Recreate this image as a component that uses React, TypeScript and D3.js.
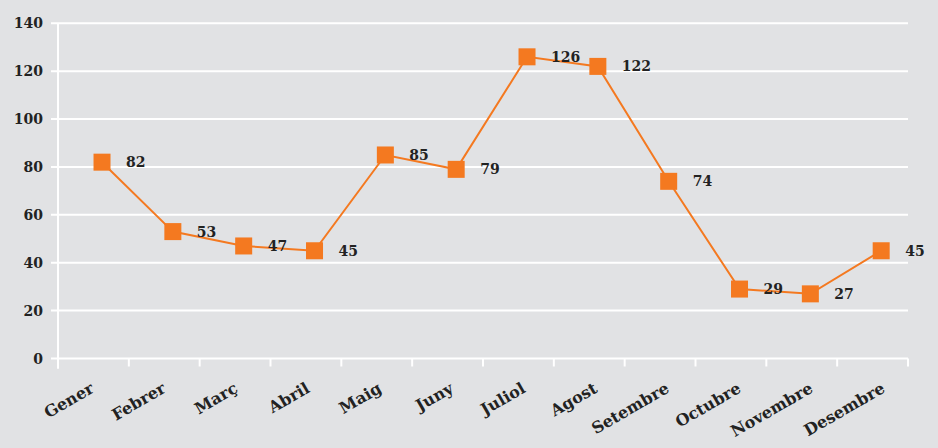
import React from "react";
import * as d3 from "d3";

const months = ["Gener", "Febrer", "Març", "Abril", "Maig", "Juny", "Juliol", "Agost", "Setembre", "Octubre", "Novembre", "Desembre"];
const values = [82, 53, 47, 45, 85, 79, 126, 122, 74, 29, 27, 45];
const yTicks = [0, 20, 40, 60, 80, 100, 120, 140];

const W = 938;
const H = 448;
const left = 58;
const right = 908;
const top = 23.3;
const bottom = 358.5;
const BG = "#e1e2e4";
const ORANGE = "#f47920";
const TEXT = "#222222";
const FONT = "'DejaVu Serif', 'Liberation Serif', serif";
const pointShift = 8.6;

export default function App() {
  const x = d3.scaleBand<string>().domain(months).range([left, right]).padding(0);
  const xLabel = d3.scalePoint<string>().domain(months).range([95, 886]);
  const y = d3.scaleLinear().domain([0, 140]).range([bottom, top]);
  const px = (m: string) => (x(m) as number) + x.bandwidth() / 2 + pointShift;
  const line = d3
    .line<number>()
    .x((_, i) => px(months[i]))
    .y((v) => y(v));
  const boundaries = months.map((m) => x(m) as number).concat([right]);

  return (
    <svg width={W} height={H} style={{ position: "absolute", left: 0, top: 0, background: BG }}>
      <rect x={0} y={0} width={W} height={H} fill={BG} />
      {yTicks.map((t) => (
        <g key={t}>
          <line x1={51} x2={right} y1={y(t)} y2={y(t)} stroke="#fff" strokeWidth={2} />
          <text x={43} y={y(t) + 5} textAnchor="end" fontFamily={FONT} fontWeight="bold" fontSize={14} fill={TEXT}>
            {t}
          </text>
        </g>
      ))}
      <line x1={left} x2={left} y1={top} y2={bottom + 10} stroke="#fff" strokeWidth={2} />
      {boundaries.map((b, i) => (
        <line key={i} x1={b} x2={b} y1={bottom} y2={bottom + (i === 0 ? 10 : 8)} stroke="#fff" strokeWidth={2} />
      ))}
      {months.map((m) => (
        <text
          key={m}
          transform={`translate(${xLabel(m)},${bottom + 33}) rotate(-30)`}
          textAnchor="end"
          fontFamily={FONT}
          fontWeight="bold"
          fontSize={16}
          fill={TEXT}
        >
          {m}
        </text>
      ))}
      <path d={line(values) || ""} fill="none" stroke={ORANGE} strokeWidth={2} />
      {values.map((v, i) => (
        <rect key={i} x={px(months[i]) - 8.5} y={y(v) - 8.5} width={17} height={17} fill={ORANGE} />
      ))}
      {values.map((v, i) => (
        <text
          key={"l" + i}
          x={px(months[i]) + 24}
          y={y(v) + 5}
          fontFamily={FONT}
          fontWeight="bold"
          fontSize={14}
          fill={TEXT}
        >
          {v}
        </text>
      ))}
    </svg>
  );
}
